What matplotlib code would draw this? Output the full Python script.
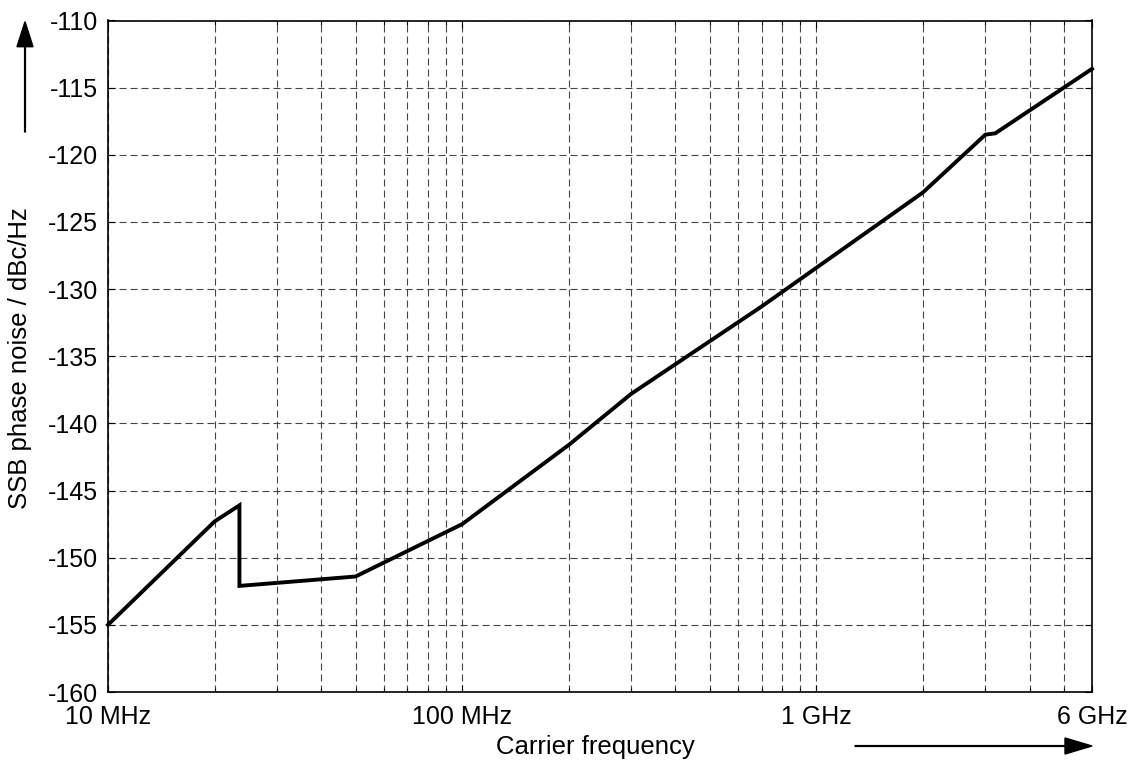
import numpy as np
import matplotlib
matplotlib.use("Agg")
import matplotlib.pyplot as plt
from matplotlib.patches import FancyArrow
from matplotlib.ticker import FixedLocator, FixedFormatter, NullFormatter

# carrier frequency in MHz and SSB phase noise in dBc/Hz
freq_mhz = [10, 20, 23.5, 23.5, 50, 100, 200, 300, 700, 2000, 3000, 3200, 6000]
noise_dbc = [-155, -147.3, -146.1, -152.1, -151.4, -147.5, -141.6, -137.8,
             -131.3, -122.8, -118.5, -118.4, -113.6]

xmajor = [10, 100, 1000, 6000]
xmajor_labels = ["10 MHz", "100 MHz", "1 GHz", "6 GHz"]
xminor = [20, 30, 40, 50, 60, 70, 80, 90,
          200, 300, 400, 500, 600, 700, 800, 900,
          2000, 3000, 4000, 5000]
yticks = [-160, -155, -150, -145, -140, -135, -130, -125, -120, -115, -110]

plt.rcParams["font.family"] = ["Liberation Sans", "DejaVu Sans"]
fs = 18
fs_lab = 18.5

W, H = 1136, 764
fig = plt.figure(figsize=(W / 100, H / 100), dpi=100)
ax = fig.add_axes([108 / W, 1 - 692 / H, (1092 - 108) / W, (692 - 20.5) / H])

ax.set_xscale("log")
ax.set_xlim(10, 6000)
ax.set_ylim(-160, -110)

ax.xaxis.set_major_locator(FixedLocator(xmajor))
ax.xaxis.set_major_formatter(FixedFormatter(xmajor_labels))
ax.xaxis.set_minor_locator(FixedLocator(xminor))
ax.xaxis.set_minor_formatter(NullFormatter())
ax.set_yticks(yticks)
ax.set_yticklabels([str(v) for v in yticks])

# dashed grid
gridstyle = dict(color="#454545", linestyle=(0, (6.3, 3.6)), linewidth=0.8)
ax.grid(True, which="both", axis="x", **gridstyle)
ax.grid(True, which="major", axis="y", **gridstyle)
ax.set_axisbelow(True)

ax.tick_params(which="both", direction="in", top=True, right=True,
               labelsize=fs, width=0.8, colors="black")
ax.tick_params(which="major", length=5)
ax.tick_params(axis="y", which="major", pad=7)
ax.tick_params(axis="x", which="major", pad=9)
ax.tick_params(which="minor", length=3)
for sp in ax.spines.values():
    sp.set_linewidth(1.2)
    sp.set_color("black")

ax.plot(freq_mhz, noise_dbc, color="black", linewidth=2.8,
        solid_joinstyle="miter", clip_on=False, zorder=3)

# axis titles
fig.text(20 / W, 1 - 358 / H, "SSB phase noise / dBc/Hz", rotation=90,
         ha="center", va="center", fontsize=fs_lab)
fig.text(595.5 / W, 1 - 747 / H, "Carrier frequency",
         ha="center", va="center", fontsize=fs_lab)

# direction arrows (inch coordinates)
up = FancyArrow(25 / 100, (H - 132) / 100, 0, (132 - 21.7) / 100,
                width=0.008, head_width=0.16, head_length=0.25,
                length_includes_head=True, color="black",
                transform=fig.dpi_scale_trans)
right = FancyArrow(855 / 100, (H - 746) / 100, (1092 - 855) / 100, 0,
                   width=0.008, head_width=0.16, head_length=0.27,
                   length_includes_head=True, color="black",
                   transform=fig.dpi_scale_trans)
fig.add_artist(up)
fig.add_artist(right)

fig.savefig("out.png", dpi=100)
